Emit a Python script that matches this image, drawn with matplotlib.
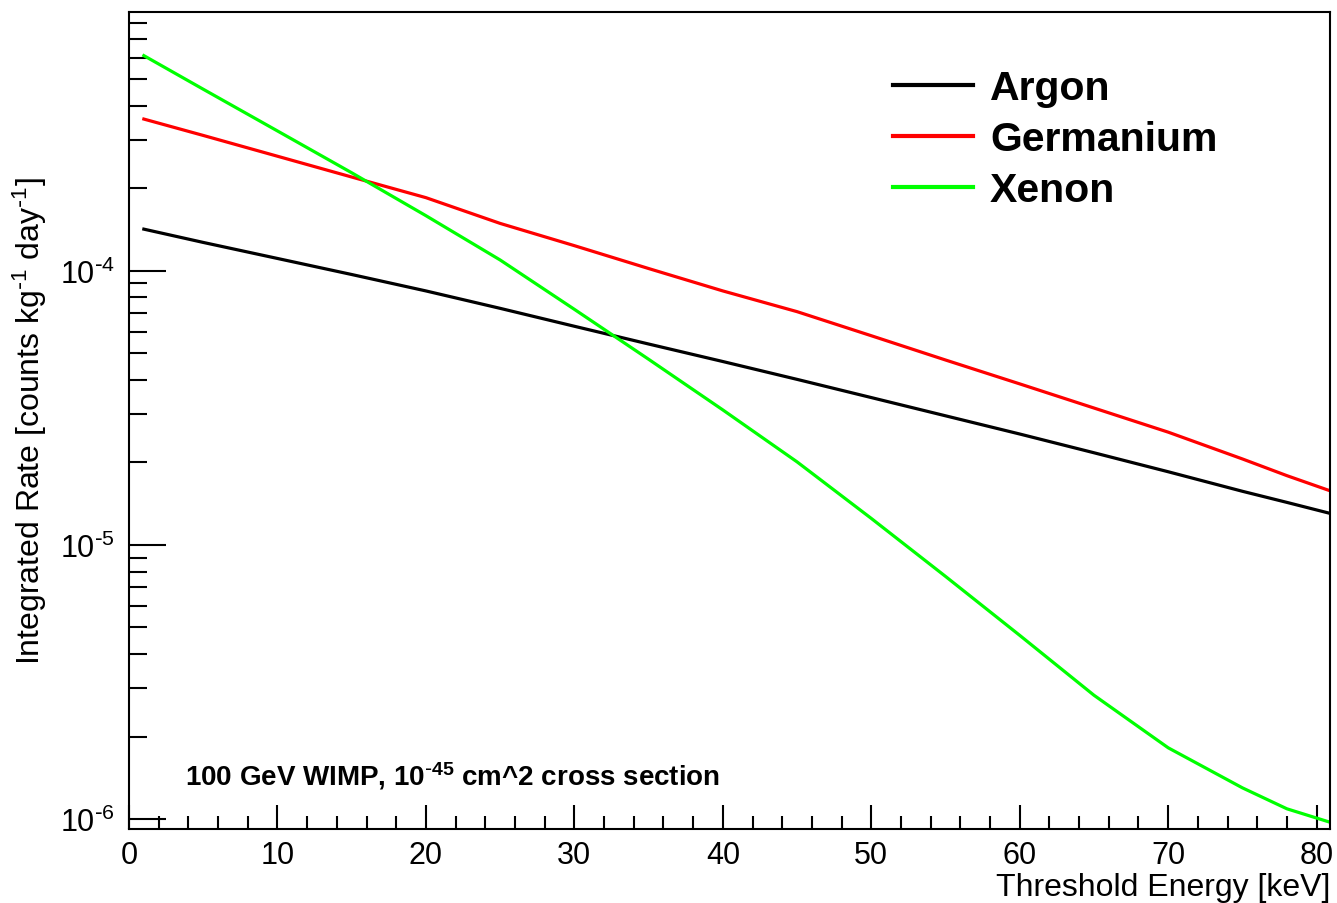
import math
import matplotlib
matplotlib.use("Agg")
import matplotlib.pyplot as plt
from matplotlib.ticker import FixedLocator, FuncFormatter, MultipleLocator

plt.rcParams['font.family'] = ['Liberation Sans', 'DejaVu Sans']
plt.rcParams['mathtext.default'] = 'regular'

# Threshold energy [keV]
energy = [1, 5, 10, 15, 20, 25, 30, 35, 40, 45, 50, 55, 60, 65, 70, 75, 78, 81]
# Integrated rate [counts kg^-1 day^-1]
argon = [1.42e-4, 1.27e-4, 1.11e-4, 9.7e-5, 8.45e-5, 7.3e-5, 6.28e-5, 5.41e-5,
         4.67e-5, 4.02e-5, 3.45e-5, 2.96e-5, 2.54e-5, 2.17e-5, 1.85e-5, 1.57e-5,
         1.43e-5, 1.30e-5]
germanium = [3.58e-4, 3.12e-4, 2.62e-4, 2.20e-4, 1.85e-4, 1.49e-4, 1.236e-4, 1.02e-4,
             8.45e-5, 7.1e-5, 5.8e-5, 4.73e-5, 3.87e-5, 3.16e-5, 2.58e-5, 2.06e-5,
             1.79e-5, 1.57e-5]
xenon = [6.1e-4, 4.6e-4, 3.24e-4, 2.28e-4, 1.59e-4, 1.096e-4, 7.24e-5, 4.76e-5,
         3.11e-5, 2.01e-5, 1.25e-5, 7.68e-6, 4.68e-6, 2.83e-6, 1.82e-6, 1.30e-6,
         1.09e-6, 9.7e-7]

series_names = ['Argon', 'Germanium', 'Xenon']
series_colors = ['#000000', '#ff0000', '#00ff00']
annotation = r'100 GeV WIMP, 10$^{\text{-}45}$ cm^2 cross section'
xlabel = 'Threshold Energy [keV]'
ylabel = r'Integrated Rate [counts kg$^{\text{-}1}$ day$^{\text{-}1}$]'

fig = plt.figure(figsize=(13.37, 9.04), dpi=100)
ax = fig.add_axes([129/1337, 1 - 830/904, (1330-129)/1337, (830-13)/904])

for vals, name, col in zip([argon, germanium, xenon], series_names, series_colors):
    ax.plot(energy, vals, color=col, lw=2.3, label=name)

ax.set_yscale('log')
ax.set_xlim(0, 80.9)
ax.set_ylim(9.2e-7, 8.8e-4)

ax.xaxis.set_major_locator(MultipleLocator(10))
ax.xaxis.set_minor_locator(MultipleLocator(2))
ax.yaxis.set_major_locator(FixedLocator([1e-6, 1e-5, 1e-4]))
minors = [m * 10.0**e for e in (-7, -6, -5, -4) for m in range(2, 10)]
ax.yaxis.set_minor_locator(FixedLocator(minors))
ax.yaxis.set_major_formatter(
    FuncFormatter(lambda v, p: r'10$^{\text{-}%d}$' % abs(round(math.log10(v)))))
ax.yaxis.set_minor_formatter(FuncFormatter(lambda v, p: ''))

ax.tick_params(axis='both', which='both', direction='in', top=False, right=False,
               width=1.5, labelsize=22)
ax.tick_params(axis='y', which='major', length=26.5, pad=10)
ax.tick_params(axis='y', which='minor', length=13)
ax.tick_params(axis='x', which='major', length=17.5, pad=8)
ax.tick_params(axis='x', which='minor', length=9.5)
for s in ax.spines.values():
    s.set_linewidth(1.5)

ax.set_xlabel(xlabel, fontsize=23, ha='right', va='top')
ax.xaxis.set_label_coords(1.0, -0.053)
ax.set_ylabel(ylabel, fontsize=23)
ax.yaxis.set_label_coords(-0.067, 0.5)

ax.text(185/1337, 1 - 776/904, annotation, transform=fig.transFigure,
        fontsize=20, fontweight='bold', ha='left', va='center')

leg = ax.legend(loc='upper left', bbox_to_anchor=(893/1337, 1 - 70/904),
                bbox_transform=fig.transFigure, frameon=False,
                prop={'size': 29.5, 'weight': 'bold'}, handlelength=1.95,
                handletextpad=0.42, labelspacing=0.32, borderpad=0, borderaxespad=0)
for l in leg.get_lines():
    l.set_linewidth(3)

fig.savefig('out.png', dpi=100)
